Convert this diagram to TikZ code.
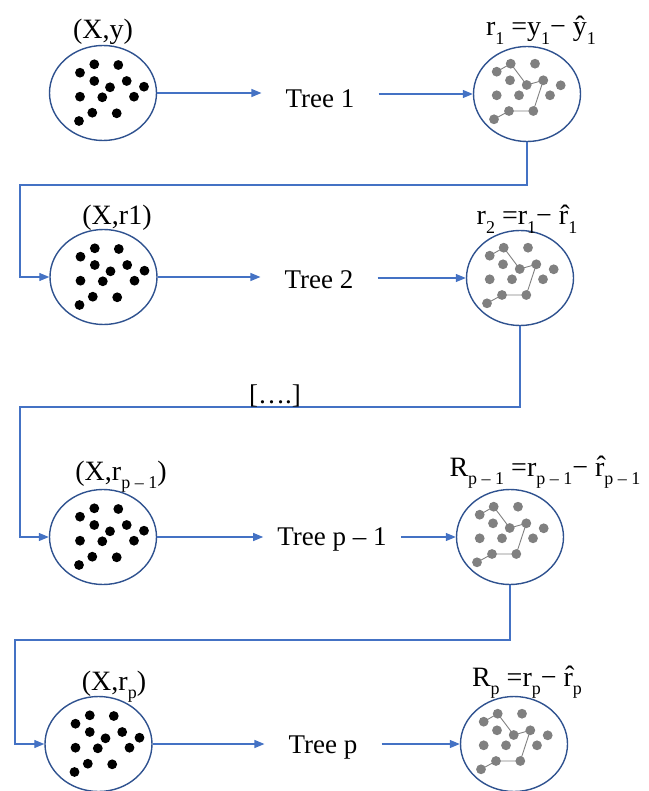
\documentclass[tikz,border=0pt]{standalone}
\usepackage{fontspec}
\setmainfont{Liberation Serif}
\usetikzlibrary{shapes.geometric,arrows.meta}
\definecolor{ringblue}{HTML}{2F528F}
\definecolor{arrowblue}{HTML}{4472C4}
\definecolor{dotgray}{HTML}{808080}
\newcommand\sbs[1]{\raisebox{-0.32em}{\fontsize{18}{18}\selectfont #1}}
\newcommand\rht{\^{r}}
\tikzset{
  ring/.style={draw=ringblue, line width=1.4pt, ellipse, minimum width=107pt, minimum height=95pt, inner sep=0pt},
  flow/.style={draw=arrowblue, line width=1.2pt, -{Triangle[length=10pt,width=8pt]}},
  lbl/.style={font=\fontsize{28}{30}\selectfont, inner sep=0pt, anchor=base},
  treelbl/.style={font=\fontsize{27}{30}\selectfont, inner ysep=2pt, inner xsep=#1},
}
\newcommand\blackdots[1]{%
  \begin{scope}[shift={(#1.center)}]
    \foreach \dx/\dy in {-23/-20.3, -8.7/-28.7, 15.3/-28, -8.7/-12, 7/-5.7, 23.7/-12, 41/-6.3, -23/3.7, -0.7/4.3, 31/3.7, -10.7/19.7, 13.7/20.3, -24/28}
      \fill[black] (\dx,\dy) circle (4.9pt);
  \end{scope}}
\newcommand\graynet[1]{%
  \begin{scope}[shift={(#1.center)}]
    \draw[dotgray, line width=0.9pt] (-30.3,-22.3) -- (-16.3,-30.3) -- (-0.3,-9) -- (16.3,-13.7) -- (6.3,17) -- (-18,17) -- (-33,25.3);
    \foreach \dx/\dy in {-30.3/-22.3, -16.3/-30.3, 8/-30.3, -17/-13.7, -0.3/-9, 16.3/-13.7, 33.7/-8.7, -30.3/1.3, -8/1.3, 23/1.3, -18/17, 6.3/17, -33/25.3}
      \fill[dotgray] (\dx,\dy) circle (4.9pt);
  \end{scope}}
\begin{document}
\begin{tikzpicture}[x=1pt,y=-1pt]
\useasboundingbox (0,0) rectangle (648,791);
% ellipses
\node[ring] (L1) at (103,93) {};
\node[ring] (R1) at (527,94) {};
\node[ring] (L2) at (103.5,277) {};
\node[ring] (R2) at (520,278) {};
\node[ring] (L3) at (103,537) {};
\node[ring] (R3) at (510,537) {};
\node[ring] (L4) at (98.5,744) {};
\node[ring] (R4) at (514,744) {};
\blackdots{L1}\blackdots{L2}\blackdots{L3}\blackdots{L4}
\graynet{R1}\graynet{R2}\graynet{R3}\graynet{R4}
% labels
\node[lbl] (XL1) at (103,39) {(X,y)};
\node[lbl] (XR1) at (541,36) {r\sbs{1} =y\sbs{1}− ŷ\sbs{1}};
\node[lbl] (XL2) at (117,225) {(X,r1)};
\node[lbl] (XR2) at (527,225) {r\sbs{2} =r\sbs{1}− \rht\sbs{1}};
\node[lbl] (XL3) at (121,480) {(X,r\sbs{p – 1})};
\node[lbl] (XR3) at (545,476) {R\sbs{p – 1} =r\sbs{p – 1}− \rht\sbs{p – 1}};
\node[lbl] (XL4) at (114,690) {(X,r\sbs{p})};
\node[lbl] (XR4) at (527,686) {R\sbs{p} =r\sbs{p}− \rht\sbs{p}};
% tree labels
\node[treelbl=24pt] (T1) at (320,99) {Tree 1};
\node[treelbl=24pt] (T2) at (319,280) {Tree 2};
\node[treelbl=14pt] (T3) at (332,539) {Tree p – 1};
\node[treelbl=24pt] (T4) at (323,748) {Tree p};
% horizontal flows
\draw[flow] (L1) -- (T1.west |- L1);
\draw[flow] (T1.east |- R1) -- (R1);
\draw[flow] (L2) -- (T2.west |- L2);
\draw[flow] (T2.east |- R2) -- (R2);
\draw[flow] (L3) -- (T3.west |- L3);
\draw[flow] (T3.east |- R3) -- (R3);
\draw[flow] (L4) -- (T4.west |- L4);
\draw[flow] (T4.east |- R4) -- (R4);
% return connectors
\coordinate (c1) at (20,185);
\coordinate (c2) at (20,407);
\coordinate (c3) at (15,640);
\draw[flow] (R1.south) |- (c1) |- (L2.west);
\draw[flow] (R2.south) |- (c2) |- (L3.west);
\draw[flow] (R3.south) |- (c3) |- (L4.west);
\node[font=\fontsize{27}{30}\selectfont, anchor=base] (dots) at (275,403) {[….]};
\end{tikzpicture}
\end{document}
